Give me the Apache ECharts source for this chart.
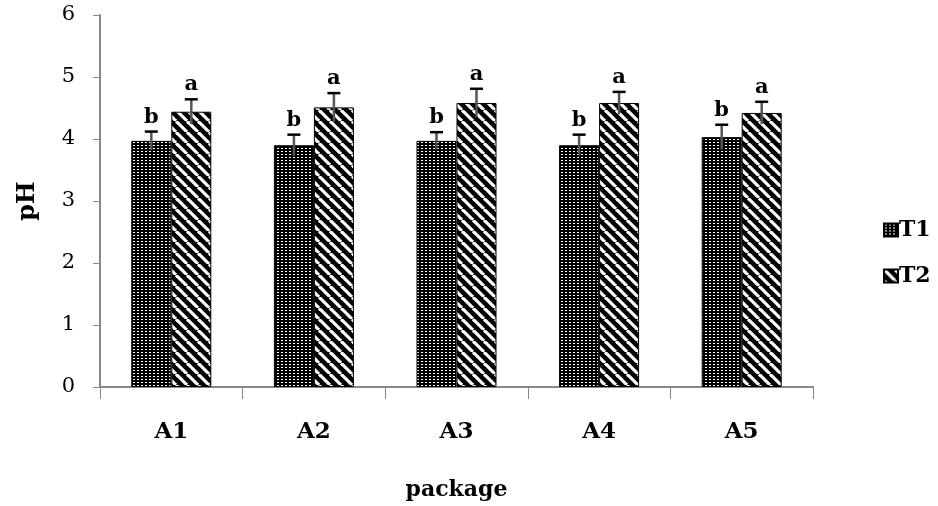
<!DOCTYPE html>
<html><head><meta charset="utf-8">
<script src="https://cdn.jsdelivr.net/npm/echarts@6/dist/echarts.min.js"></script>
<style>html,body{margin:0;padding:0;background:#fff}#c{width:938px;height:506px}</style>
</head><body><div id="c"></div>
<script>
var categories = ['A1','A2','A3','A4','A5'];
var seriesNames = ['T1','T2'];
var t1Values = [3.97, 3.90, 3.97, 3.90, 4.03];
var t2Values = [4.44, 4.51, 4.58, 4.58, 4.42];
var t1Errors = [0.15, 0.17, 0.14, 0.17, 0.20];
var t2Errors = [0.20, 0.23, 0.23, 0.18, 0.18];
var t1Letters = ['b','b','b','b','b'];
var t2Letters = ['a','a','a','a','a'];
var yTicks = [0,1,2,3,4,5,6];

function dotPattern(){
  var c = document.createElement('canvas'); c.width = 4; c.height = 3;
  var g = c.getContext('2d');
  g.fillStyle = '#000'; g.fillRect(0,0,4,3);
  g.fillStyle = '#fff'; g.fillRect(1,1,2,1);
  return {image: c, repeat: 'repeat'};
}
function stripePattern(){
  var n = 11;
  var c = document.createElement('canvas'); c.width = n; c.height = n;
  var g = c.getContext('2d');
  g.fillStyle = '#000'; g.fillRect(0,0,n,n);
  g.strokeStyle = '#fff'; g.lineWidth = 3.2;
  for (var k = -n; k <= n; k += n) {
    g.beginPath(); g.moveTo(k, 0); g.lineTo(k + n, n); g.stroke();
  }
  return {image: c, repeat: 'repeat'};
}

var font = '"DejaVu Serif", "Liberation Serif", serif';
var BW = 40;

function errSeries(values, errors, letters, side){
  var data = values.map(function(v,i){ return [i, v, errors[i]]; });
  return {
    type: 'custom', silent: true, z: 5,
    renderItem: function(params, api){
      var i = api.value(0), v = api.value(1), e = api.value(2);
      var base = api.coord([i, v]);
      var top = api.coord([i, v + e]);
      var low = api.coord([i, v - e]);
      var x = base[0] + side * BW / 2;
      return {type: 'group', children: [
        {type: 'line', shape: {x1: x, y1: low[1], x2: x, y2: top[1]}, style: {stroke: '#555', lineWidth: 2.5}},
        {type: 'line', shape: {x1: x - 6.5, y1: top[1], x2: x + 6.5, y2: top[1]}, style: {stroke: '#000', lineWidth: 2.5}},
        {type: 'text', x: x, y: top[1] - 4, style: {text: letters[i], font: 'bold 21px ' + font, fill: '#000', align: 'center', verticalAlign: 'bottom'}}
      ]};
    },
    data: data
  };
}

var chart = echarts.init(document.getElementById('c'));
chart.setOption({
  animation: false,
  backgroundColor: '#fff',
  grid: {left: 100, right: 125, top: 15, bottom: 118},
  legend: {
    orient: 'vertical', left: 878, top: 214, itemWidth: 14, itemHeight: 13, itemGap: 24,
    icon: 'rect', data: seriesNames,
    textStyle: {fontFamily: font, fontSize: 22, fontWeight: 'bold', color: '#000', padding: [0,0,0,-4]}
  },
  xAxis: {
    type: 'category', data: categories,
    name: 'package', nameLocation: 'middle', nameGap: 92,
    nameTextStyle: {fontFamily: font, fontSize: 22, fontWeight: 'bold', color: '#000'},
    axisLine: {lineStyle: {color: '#888', width: 2}},
    axisTick: {show: true, length: 12, lineStyle: {color: '#888'}},
    axisLabel: {fontFamily: font, fontSize: 23, fontWeight: 'bold', color: '#000', margin: 34}
  },
  yAxis: {
    type: 'value', min: 0, max: 6, interval: 1,
    name: 'pH', nameLocation: 'middle', nameGap: 60,
    nameTextStyle: {fontFamily: font, fontSize: 24, fontWeight: 'bold', color: '#000'},
    axisLine: {show: true, lineStyle: {color: '#888', width: 2}},
    axisTick: {show: true, length: 7, lineStyle: {color: '#888'}},
    splitLine: {show: false},
    axisLabel: {fontFamily: font, fontSize: 21, color: '#000', margin: 25,
      formatter: function(v){ return yTicks.indexOf(v) >= 0 ? String(v) : ''; }}
  },
  series: [
    {name: seriesNames[0], type: 'bar', data: t1Values, barWidth: BW, barGap: '0%',
     itemStyle: {color: dotPattern(), borderColor: '#000', borderWidth: 1}},
    {name: seriesNames[1], type: 'bar', data: t2Values, barWidth: BW, barGap: '0%',
     itemStyle: {color: stripePattern(), borderColor: '#000', borderWidth: 1}},
    errSeries(t1Values, t1Errors, t1Letters, -1),
    errSeries(t2Values, t2Errors, t2Letters, 1)
  ]
});
</script>
</body></html>
